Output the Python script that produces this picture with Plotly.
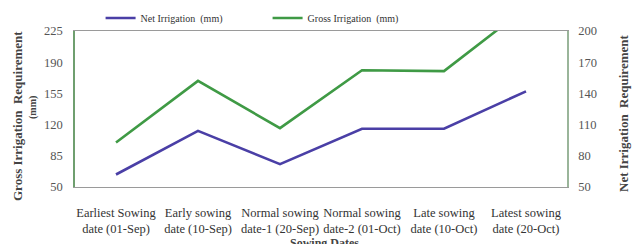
import plotly.graph_objects as go

categories = [
    "Earliest Sowing<br>date (01-Sep)",
    "Early sowing<br>date (10-Sep)",
    "Normal sowing<br>date-1 (20-Sep)",
    "Normal sowing<br>date-2 (01-Oct)",
    "Late sowing<br>date (10-Oct)",
    "Latest sowing<br>date (20-Oct)",
]
net_irrigation = [62, 104, 72, 106, 106, 142]
gross_irrigation = [100, 169, 116, 181, 180, 251]

left_ticks = [50, 85, 120, 155, 190, 225]
right_ticks = [50, 80, 110, 140, 170, 200]

FONT = "Liberation Serif"
BLUE = "#4a3fa6"
GREEN = "#3f9a45"

# page body offsets the figure by 8px; compensate in margins
OFF = 8
fig = go.Figure()
fig.add_trace(go.Scatter(x=categories, y=net_irrigation, name="Net Irrigation  (mm)",
                         mode="lines", line=dict(color=BLUE, width=2.6), yaxis="y2"))
fig.add_trace(go.Scatter(x=categories, y=gross_irrigation, name="Gross Irrigation  (mm)",
                         mode="lines", line=dict(color=GREEN, width=2.6), yaxis="y"))

fig.update_layout(
    width=640, height=244,
    margin=dict(l=75 - OFF, r=73 + OFF, t=31 - OFF, b=57 + OFF, autoexpand=False),
    paper_bgcolor="white", plot_bgcolor="white",
    font=dict(family=FONT, size=10, color="#333"),
    showlegend=True,
    legend=dict(orientation="h", x=0.052, y=1 - (18 - OFF) / 244, xanchor="left",
                yanchor="middle", xref="paper", yref="container",
                entrywidth=122, entrywidthmode="pixels",
                font=dict(family=FONT, size=10, color="#333"),
                bgcolor="rgba(0,0,0,0)", itemwidth=30),
    xaxis=dict(type="category", range=[-0.5, 5.5], showgrid=False, showline=True,
               mirror=True, linecolor="#9a9a9a", linewidth=1, ticks="",
               automargin=False, ticklabelstandoff=14,
               tickfont=dict(family=FONT, size=12.5, color="#333")),
    yaxis=dict(range=[50, 225], tickvals=left_ticks, showgrid=False, showline=True,
               linecolor="#6f9f6f", linewidth=1.5, ticks="", zeroline=False,
               automargin=False, ticklabelstandoff=8,
               tickfont=dict(family=FONT, size=12.5, color="#555")),
    yaxis2=dict(range=[50, 200], tickvals=right_ticks, overlaying="y", side="right",
                showgrid=False, showline=True, linecolor="#9ab59a", linewidth=1.5,
                ticks="", zeroline=False, ticklabelstandoff=7, automargin=False,
                tickfont=dict(family=FONT, size=12.5, color="#555")),
)

fig.add_annotation(text="<b>Gross Irrigation  Requirement</b>", textangle=-90,
                   xref="paper", yref="paper", x=(17 - 75) / 492, y=(187 - 116) / 156,
                   xanchor="center", yanchor="middle", showarrow=False,
                   font=dict(family=FONT, size=13, color="#444"))
fig.add_annotation(text="<b>(mm)</b>", textangle=-90, xref="paper", yref="paper",
                   x=(33 - 75) / 492, y=(187 - 108) / 156, xanchor="center",
                   yanchor="middle", showarrow=False,
                   font=dict(family=FONT, size=10, color="#444"))
fig.add_annotation(text="<b>Net Irrigation  Requirement</b>", textangle=-90,
                   xref="paper", yref="paper", x=(623 - 75) / 492, y=(187 - 114) / 156,
                   xanchor="center", yanchor="middle", showarrow=False,
                   font=dict(family=FONT, size=13, color="#444"))
fig.add_annotation(text="<b>(mm)</b>", textangle=-90, xref="paper", yref="paper",
                   x=(638 - 75) / 492, y=(187 - 105) / 156, xanchor="center",
                   yanchor="middle", showarrow=False,
                   font=dict(family=FONT, size=10, color="#444"))
fig.add_annotation(text="<b>Sowing Dates</b>", xref="paper", yref="paper",
                   x=(324 - 75) / 492, y=(187 - 243) / 156, xanchor="center",
                   yanchor="middle", showarrow=False,
                   font=dict(family=FONT, size=12, color="#444"))

fig.write_html("out.html")
